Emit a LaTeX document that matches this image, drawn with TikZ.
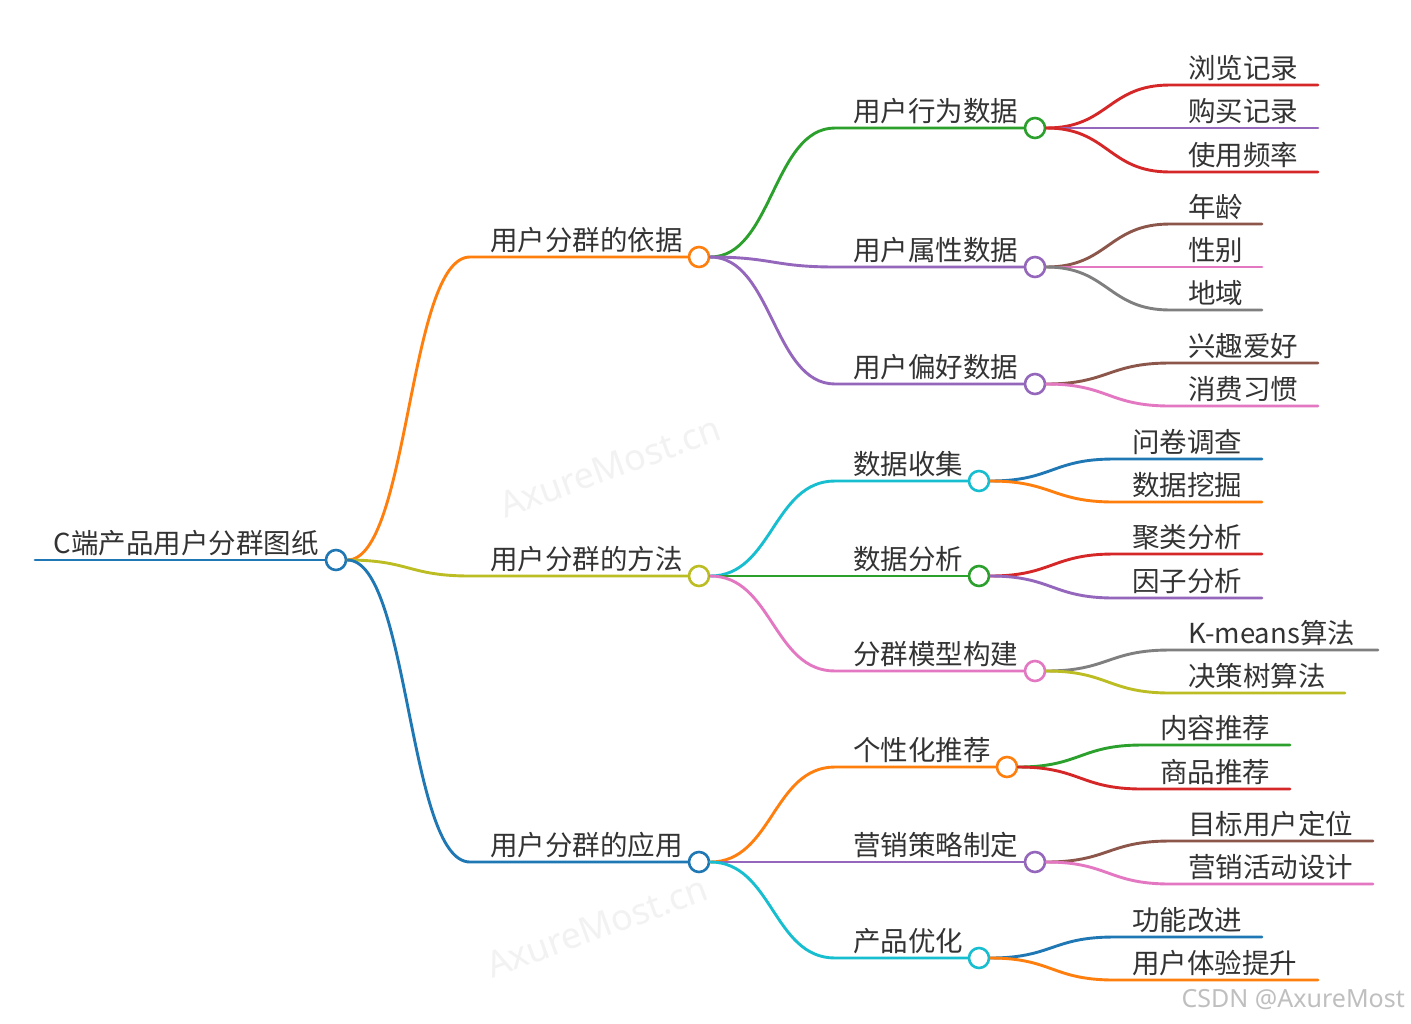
\documentclass[tikz,border=0pt]{standalone}
\usepackage{fontspec}
\newfontfamily\cjk{Noto Sans CJK SC}
\newfontfamily\wmfont{Noto Sans}
\definecolor{cblue}{HTML}{1F77B4}
\definecolor{corange}{HTML}{FF7F0E}
\definecolor{cgreen}{HTML}{2CA02C}
\definecolor{cred}{HTML}{D62728}
\definecolor{cpurple}{HTML}{9467BD}
\definecolor{cbrown}{HTML}{8C564B}
\definecolor{cpink}{HTML}{E377C2}
\definecolor{cgray}{HTML}{7F7F7F}
\definecolor{colive}{HTML}{BCBD22}
\definecolor{ccyan}{HTML}{17BECF}
\definecolor{txtgray}{HTML}{333333}
\tikzset{
  topic/.style={circle,draw=#1,fill=white,line width=2.6pt,inner sep=0pt,minimum size=20pt},
  branch/.style={draw=#1,line width=2.9pt,line cap=round},
  lbl/.style={font=\cjk\fontsize{27.5}{30}\selectfont,text=txtgray,inner sep=0pt},
  wm/.style={font=\wmfont\fontsize{36}{40}\selectfont,text=black!5,inner sep=0pt},
}
\begin{document}
\begin{tikzpicture}[x=1pt,y=-1pt]
\useasboundingbox[fill=white] (0,0) rectangle (1411,1023);
% watermarks
\node[wm,rotate=20] (wm1) at (610,467) {AxureMost.cn};
\node[wm,rotate=20] (wm2) at (597,927) {AxureMost.cn};
\node[font=\wmfont\fontsize{25}{28}\selectfont,text=black!25,anchor=base east,inner sep=0pt] (csdn) at (1405,1007) {CSDN @AxureMost};
% root
\node[topic=cblue] (root) at (336,560) {};
\coordinate (root-s) at (35,560);
\draw[branch=cblue] (root-s) -- (root.west);
\node[lbl,anchor=base east] (root-t) at ([xshift=-6pt,yshift=7pt]root.west) {C端产品用户分群图纸};
% level 1
\node[topic=corange] (yj) at (699,257) {};
\node[topic=colive] (ff) at (699,576) {};
\node[topic=cblue] (yy) at (699,862) {};
\coordinate (yj-s) at (470,257);
\coordinate (ff-s) at (470,576);
\coordinate (yy-s) at (470,862);
\draw[branch=corange] (root.east) .. controls +(62,0) and +(-62,0) .. (yj-s) -- (yj.west);
\draw[branch=colive] (root.east) .. controls +(62,0) and +(-62,0) .. (ff-s) -- (ff.west);
\draw[branch=cblue] (root.east) .. controls +(62,0) and +(-62,0) .. (yy-s) -- (yy.west);
\node[lbl,anchor=base east] (yj-t) at ([xshift=-5pt,yshift=7pt]yj.west) {用户分群的依据};
\node[lbl,anchor=base east] (ff-t) at ([xshift=-5pt,yshift=7pt]ff.west) {用户分群的方法};
\node[lbl,anchor=base east] (yy-t) at ([xshift=-5pt,yshift=7pt]yy.west) {用户分群的应用};
% level 2
\node[topic=cgreen] (xw) at (1035,128) {};
\node[topic=cpurple] (sx) at (1035,267) {};
\node[topic=cpurple] (ph) at (1035,384) {};
\node[topic=ccyan] (sj) at (979,481) {};
\node[topic=cgreen] (fx) at (979,576) {};
\node[topic=cpink] (mx) at (1035,671) {};
\node[topic=corange] (tj) at (1007,767) {};
\node[topic=cpurple] (yx) at (1035,862) {};
\node[topic=ccyan] (yh) at (979,958) {};
\coordinate (xw-s) at (835,128);
\coordinate (sx-s) at (835,267);
\coordinate (ph-s) at (835,384);
\coordinate (sj-s) at (835,481);
\coordinate (fx-s) at (835,576);
\coordinate (mx-s) at (835,671);
\coordinate (tj-s) at (835,767);
\coordinate (yx-s) at (835,862);
\coordinate (yh-s) at (835,958);
\draw[branch=cgreen] (yj.east) .. controls +(62,0) and +(-62,0) .. (xw-s) -- (xw.west);
\draw[branch=cpurple] (yj.east) .. controls +(62,0) and +(-62,0) .. (sx-s) -- (sx.west);
\draw[branch=cpurple] (yj.east) .. controls +(62,0) and +(-62,0) .. (ph-s) -- (ph.west);
\draw[branch=ccyan] (ff.east) .. controls +(62,0) and +(-62,0) .. (sj-s) -- (sj.west);
\draw[branch=cgreen] (ff.east) -- (fx-s) -- (fx.west);
\draw[branch=cpink] (ff.east) .. controls +(62,0) and +(-62,0) .. (mx-s) -- (mx.west);
\draw[branch=corange] (yy.east) .. controls +(62,0) and +(-62,0) .. (tj-s) -- (tj.west);
\draw[branch=cpurple] (yy.east) -- (yx-s) -- (yx.west);
\draw[branch=ccyan] (yy.east) .. controls +(62,0) and +(-62,0) .. (yh-s) -- (yh.west);
\node[lbl,anchor=base west] (xw-t) at ([xshift=18pt,yshift=7pt]xw-s) {用户行为数据};
\node[lbl,anchor=base west] (sx-t) at ([xshift=18pt,yshift=7pt]sx-s) {用户属性数据};
\node[lbl,anchor=base west] (ph-t) at ([xshift=18pt,yshift=7pt]ph-s) {用户偏好数据};
\node[lbl,anchor=base west] (sj-t) at ([xshift=18pt,yshift=7pt]sj-s) {数据收集};
\node[lbl,anchor=base west] (fx-t) at ([xshift=18pt,yshift=7pt]fx-s) {数据分析};
\node[lbl,anchor=base west] (mx-t) at ([xshift=18pt,yshift=7pt]mx-s) {分群模型构建};
\node[lbl,anchor=base west] (tj-t) at ([xshift=18pt,yshift=7pt]tj-s) {个性化推荐};
\node[lbl,anchor=base west] (yx-t) at ([xshift=18pt,yshift=7pt]yx-s) {营销策略制定};
\node[lbl,anchor=base west] (yh-t) at ([xshift=18pt,yshift=7pt]yh-s) {产品优化};
% level 3: 用户行为数据
\coordinate (xw1) at (1170,85);  \coordinate (xw1-e) at (1318,85);
\coordinate (xw2) at (1170,128); \coordinate (xw2-e) at (1318,128);
\coordinate (xw3) at (1170,172); \coordinate (xw3-e) at (1318,172);
\draw[branch=cred] (xw.east) .. controls +(62,0) and +(-62,0) .. (xw1) -- (xw1-e);
\draw[branch=cpurple] (xw.east) -- (xw2) -- (xw2-e);
\draw[branch=cred] (xw.east) .. controls +(62,0) and +(-62,0) .. (xw3) -- (xw3-e);
\node[lbl,anchor=base west] (xw1-t) at ([xshift=18pt,yshift=7pt]xw1) {浏览记录};
\node[lbl,anchor=base west] (xw2-t) at ([xshift=18pt,yshift=7pt]xw2) {购买记录};
\node[lbl,anchor=base west] (xw3-t) at ([xshift=18pt,yshift=7pt]xw3) {使用频率};
% level 3: 用户属性数据
\coordinate (sx1) at (1170,224); \coordinate (sx1-e) at (1262,224);
\coordinate (sx2) at (1170,267); \coordinate (sx2-e) at (1262,267);
\coordinate (sx3) at (1170,310); \coordinate (sx3-e) at (1262,310);
\draw[branch=cbrown] (sx.east) .. controls +(62,0) and +(-62,0) .. (sx1) -- (sx1-e);
\draw[branch=cpink] (sx.east) -- (sx2) -- (sx2-e);
\draw[branch=cgray] (sx.east) .. controls +(62,0) and +(-62,0) .. (sx3) -- (sx3-e);
\node[lbl,anchor=base west] (sx1-t) at ([xshift=18pt,yshift=7pt]sx1) {年龄};
\node[lbl,anchor=base west] (sx2-t) at ([xshift=18pt,yshift=7pt]sx2) {性别};
\node[lbl,anchor=base west] (sx3-t) at ([xshift=18pt,yshift=7pt]sx3) {地域};
% level 3: 用户偏好数据
\coordinate (ph1) at (1170,363); \coordinate (ph1-e) at (1318,363);
\coordinate (ph2) at (1170,406); \coordinate (ph2-e) at (1318,406);
\draw[branch=cbrown] (ph.east) .. controls +(62,0) and +(-62,0) .. (ph1) -- (ph1-e);
\draw[branch=cpink] (ph.east) .. controls +(62,0) and +(-62,0) .. (ph2) -- (ph2-e);
\node[lbl,anchor=base west] (ph1-t) at ([xshift=18pt,yshift=7pt]ph1) {兴趣爱好};
\node[lbl,anchor=base west] (ph2-t) at ([xshift=18pt,yshift=7pt]ph2) {消费习惯};
% level 3: 数据收集
\coordinate (sj1) at (1114,459); \coordinate (sj1-e) at (1262,459);
\coordinate (sj2) at (1114,502); \coordinate (sj2-e) at (1262,502);
\draw[branch=cblue] (sj.east) .. controls +(62,0) and +(-62,0) .. (sj1) -- (sj1-e);
\draw[branch=corange] (sj.east) .. controls +(62,0) and +(-62,0) .. (sj2) -- (sj2-e);
\node[lbl,anchor=base west] (sj1-t) at ([xshift=18pt,yshift=7pt]sj1) {问卷调查};
\node[lbl,anchor=base west] (sj2-t) at ([xshift=18pt,yshift=7pt]sj2) {数据挖掘};
% level 3: 数据分析
\coordinate (fx1) at (1114,554); \coordinate (fx1-e) at (1262,554);
\coordinate (fx2) at (1114,598); \coordinate (fx2-e) at (1262,598);
\draw[branch=cred] (fx.east) .. controls +(62,0) and +(-62,0) .. (fx1) -- (fx1-e);
\draw[branch=cpurple] (fx.east) .. controls +(62,0) and +(-62,0) .. (fx2) -- (fx2-e);
\node[lbl,anchor=base west] (fx1-t) at ([xshift=18pt,yshift=7pt]fx1) {聚类分析};
\node[lbl,anchor=base west] (fx2-t) at ([xshift=18pt,yshift=7pt]fx2) {因子分析};
% level 3: 分群模型构建
\coordinate (mx1) at (1170,650); \coordinate (mx1-e) at (1378,650);
\coordinate (mx2) at (1170,693); \coordinate (mx2-e) at (1345,693);
\draw[branch=cgray] (mx.east) .. controls +(62,0) and +(-62,0) .. (mx1) -- (mx1-e);
\draw[branch=colive] (mx.east) .. controls +(62,0) and +(-62,0) .. (mx2) -- (mx2-e);
\node[lbl,anchor=base west] (mx1-t) at ([xshift=18pt,yshift=7pt]mx1) {K-means算法};
\node[lbl,anchor=base west] (mx2-t) at ([xshift=18pt,yshift=7pt]mx2) {决策树算法};
% level 3: 个性化推荐
\coordinate (tj1) at (1142,745); \coordinate (tj1-e) at (1290,745);
\coordinate (tj2) at (1142,789); \coordinate (tj2-e) at (1290,789);
\draw[branch=cgreen] (tj.east) .. controls +(62,0) and +(-62,0) .. (tj1) -- (tj1-e);
\draw[branch=cred] (tj.east) .. controls +(62,0) and +(-62,0) .. (tj2) -- (tj2-e);
\node[lbl,anchor=base west] (tj1-t) at ([xshift=18pt,yshift=7pt]tj1) {内容推荐};
\node[lbl,anchor=base west] (tj2-t) at ([xshift=18pt,yshift=7pt]tj2) {商品推荐};
% level 3: 营销策略制定
\coordinate (yx1) at (1170,841); \coordinate (yx1-e) at (1373,841);
\coordinate (yx2) at (1170,884); \coordinate (yx2-e) at (1373,884);
\draw[branch=cbrown] (yx.east) .. controls +(62,0) and +(-62,0) .. (yx1) -- (yx1-e);
\draw[branch=cpink] (yx.east) .. controls +(62,0) and +(-62,0) .. (yx2) -- (yx2-e);
\node[lbl,anchor=base west] (yx1-t) at ([xshift=18pt,yshift=7pt]yx1) {目标用户定位};
\node[lbl,anchor=base west] (yx2-t) at ([xshift=18pt,yshift=7pt]yx2) {营销活动设计};
% level 3: 产品优化
\coordinate (yh1) at (1114,937); \coordinate (yh1-e) at (1262,937);
\coordinate (yh2) at (1114,980); \coordinate (yh2-e) at (1318,980);
\draw[branch=cblue] (yh.east) .. controls +(62,0) and +(-62,0) .. (yh1) -- (yh1-e);
\draw[branch=corange] (yh.east) .. controls +(62,0) and +(-62,0) .. (yh2) -- (yh2-e);
\node[lbl,anchor=base west] (yh1-t) at ([xshift=18pt,yshift=7pt]yh1) {功能改进};
\node[lbl,anchor=base west] (yh2-t) at ([xshift=18pt,yshift=7pt]yh2) {用户体验提升};
\end{tikzpicture}
\end{document}
